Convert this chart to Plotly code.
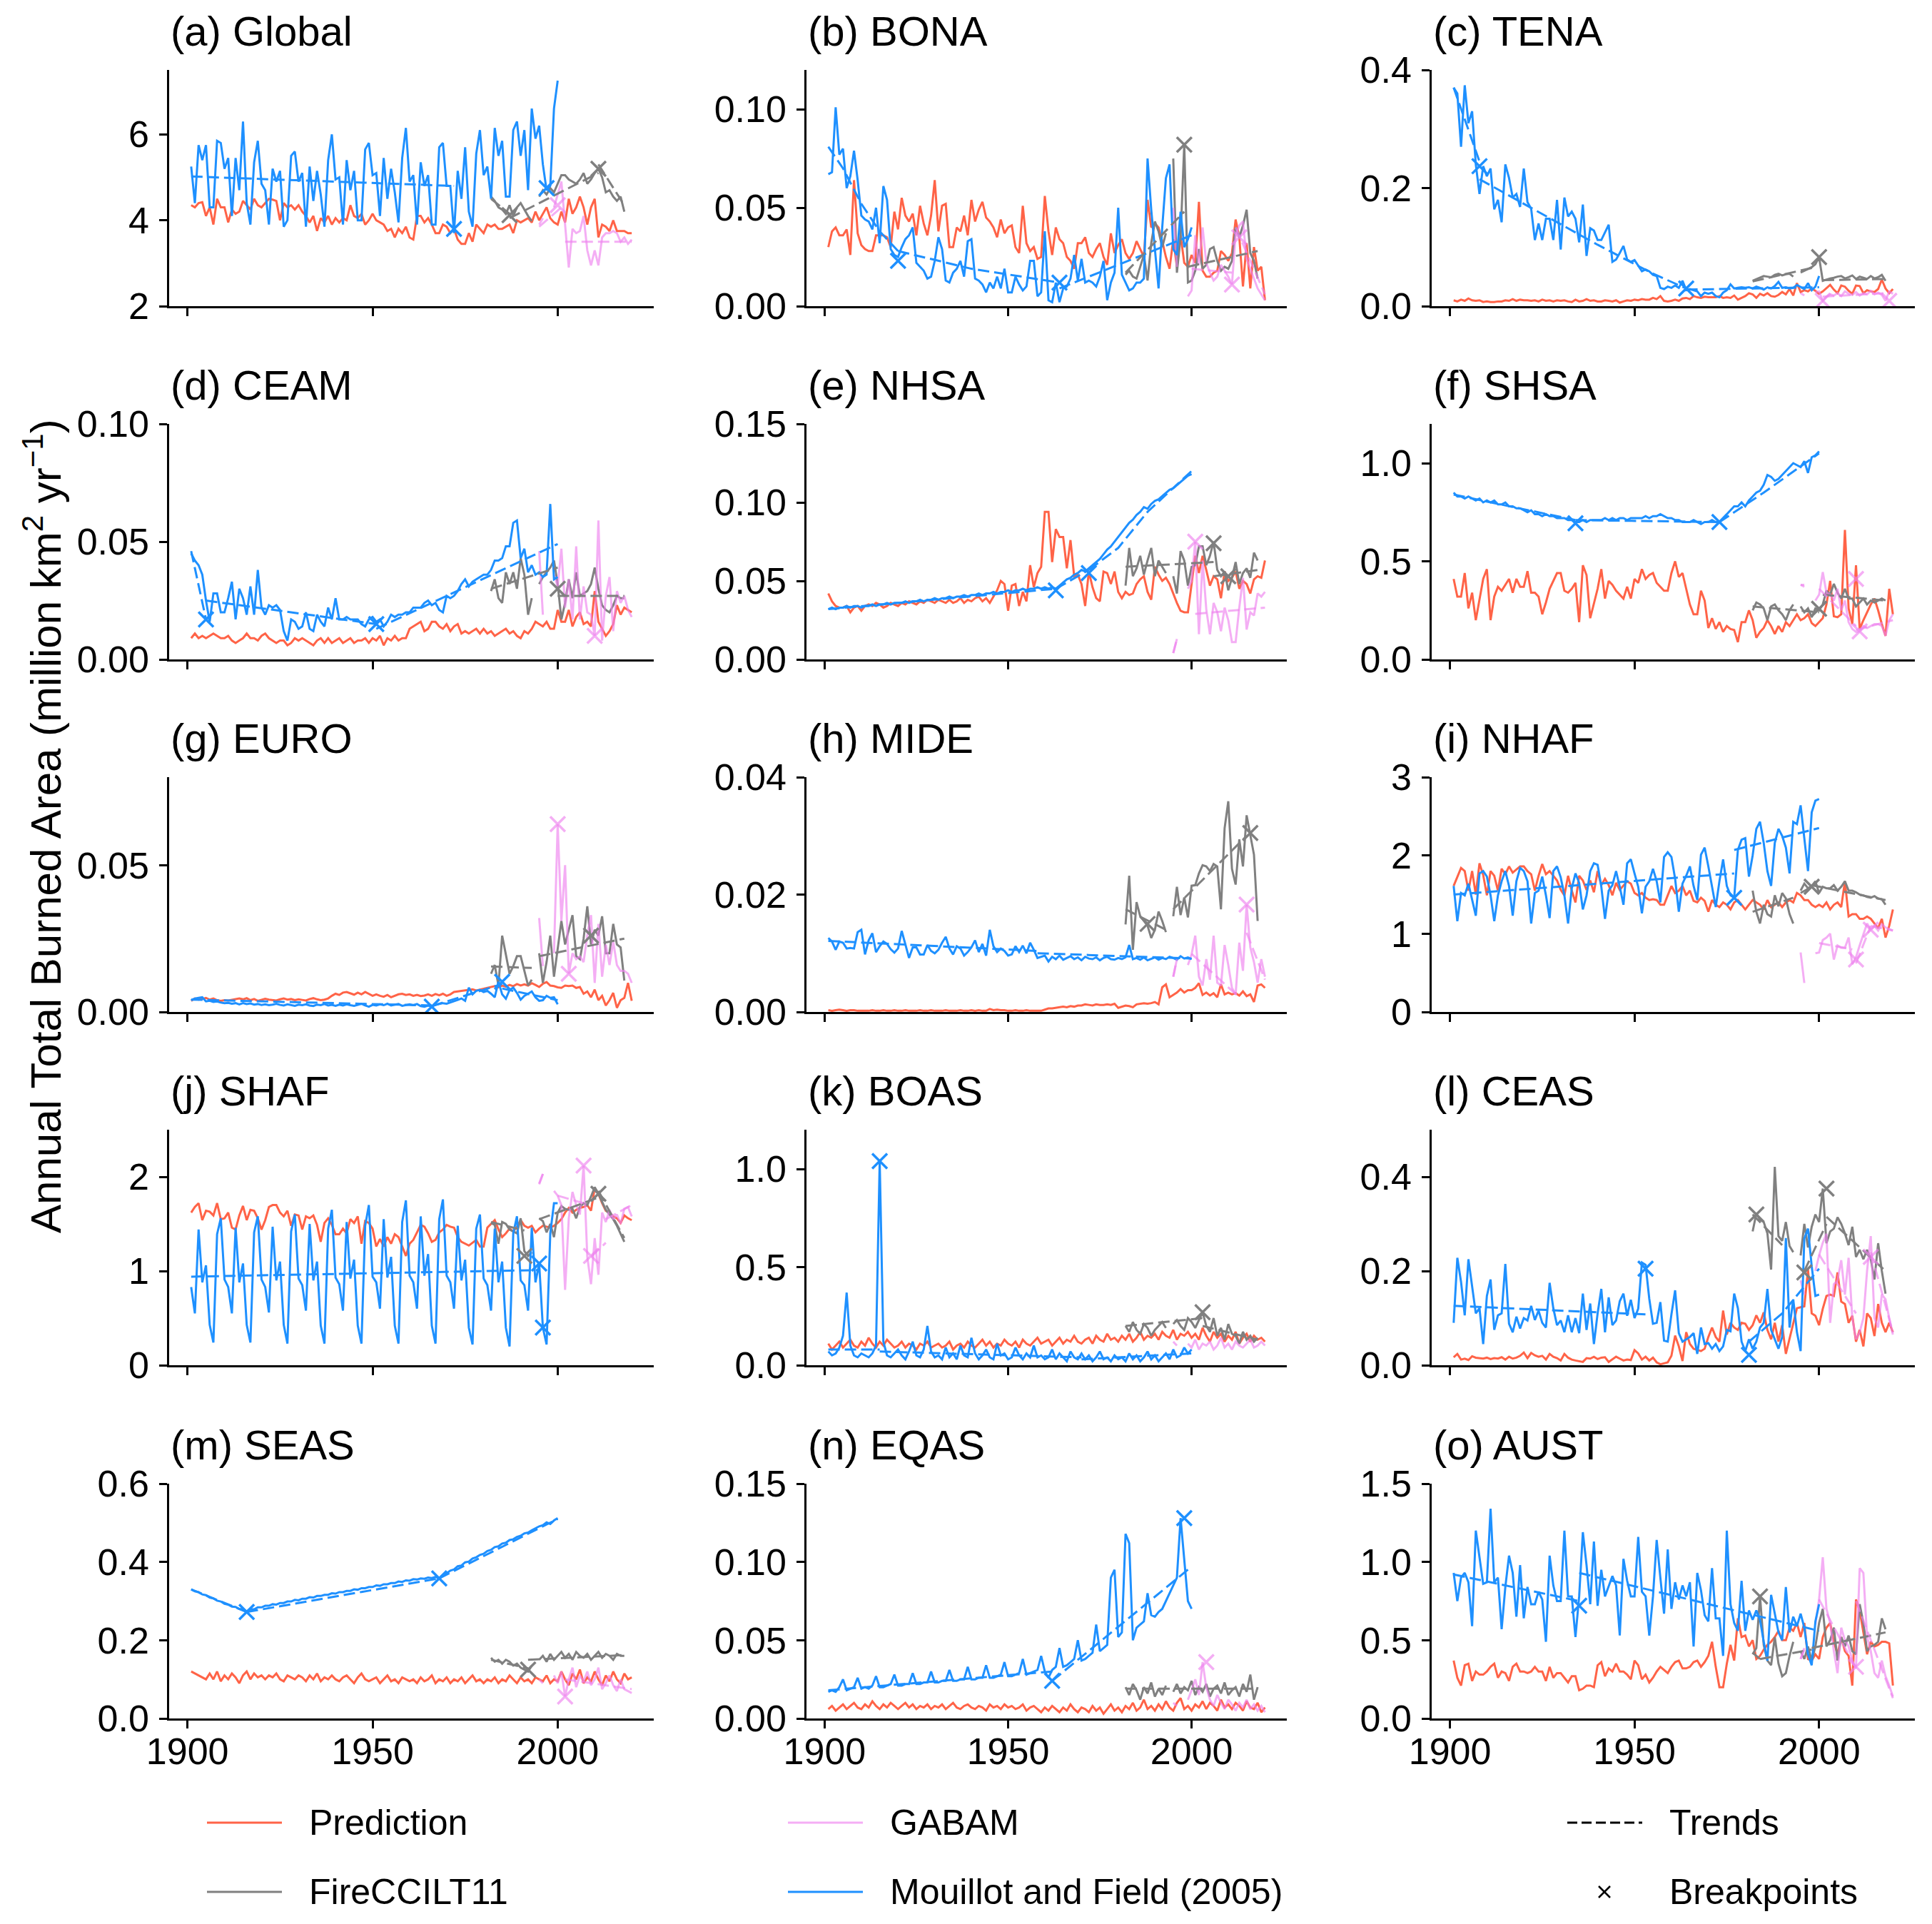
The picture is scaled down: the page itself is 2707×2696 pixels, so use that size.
import plotly.graph_objects as go

# ---------------- common categories ----------------
YEARS_PRED = list(range(1901, 2021))
YEARS_MF = list(range(1901, 2001))
YEARS_CCI = list(range(1982, 2019))
YEARS_GAB = list(range(1995, 2021))
X_TICKS = [1900, 1950, 2000]
X_RANGE = [1895.05, 2025.95]

# ---------------- (a) Global ----------------
PRED_GLOBAL = [
    4.35, 4.30, 4.40, 4.42, 4.10, 4.30, 3.90, 4.50, 4.30, 4.30,
    3.95, 4.25, 4.15, 4.20, 4.45, 4.35, 4.25, 4.50, 4.35, 4.30,
    4.40, 4.50, 4.48, 4.45, 4.00, 4.40, 4.30, 4.35, 4.25, 4.35,
    4.20, 4.10, 3.95, 4.10, 3.75, 4.05, 3.95, 4.10, 3.90, 4.05,
    3.95, 4.05, 4.00, 4.35, 4.10, 4.05, 4.15, 3.90, 4.00, 4.15,
    4.00, 3.95, 3.90, 3.75, 3.80, 3.60, 3.80, 3.70, 3.85, 3.60,
    3.55, 4.10, 4.10, 3.95, 4.05, 3.90, 3.70, 3.70, 3.90, 3.85,
    3.70, 3.80, 3.55, 3.45, 3.45, 3.70, 3.50, 3.90, 3.80, 3.70,
    3.90, 3.85, 3.90, 3.80, 3.80, 3.85, 3.90, 3.70, 4.00, 3.95,
    4.00, 4.05, 3.95, 4.20, 4.00, 4.15, 4.30, 4.05, 3.95, 3.90,
    4.20, 3.95, 4.50, 4.15, 4.30, 4.55, 4.30, 3.90, 4.30, 4.50,
    3.60, 3.90, 3.85, 3.75, 4.00, 3.75, 3.75, 3.75, 3.70, 3.70]
MF_GLOBAL = [
    5.25, 4.40, 5.75, 5.40, 5.75, 4.30, 4.30, 5.85, 5.80, 5.20,
    5.45, 4.10, 5.45, 4.70, 6.30, 4.40, 3.90, 5.35, 5.85, 4.85,
    4.70, 3.90, 5.20, 4.90, 5.15, 3.85, 4.00, 5.50, 5.60, 4.90,
    5.10, 3.85, 5.25, 4.45, 5.15, 4.60, 3.85, 5.40, 6.00, 4.95,
    5.00, 3.90, 5.40, 4.70, 5.15, 4.00, 4.00, 5.65, 5.80, 5.05,
    5.10, 4.10, 5.45, 4.50, 5.20, 4.65, 3.95, 5.45, 6.15, 4.90,
    5.05, 3.90, 5.35, 4.80, 5.05, 3.90, 3.90, 5.70, 5.80, 4.80,
    4.80, 3.70, 5.15, 4.50, 5.70, 4.20, 3.85, 5.55, 6.10, 5.05,
    5.25, 4.50, 6.15, 5.50, 5.85, 4.55, 4.55, 6.10, 6.30, 5.50,
    6.10, 4.70, 6.60, 5.90, 6.20, 5.30, 4.70, 4.80, 6.60, 7.25]
CCI_GLOBAL = [
    4.55, 4.45, 4.30, 4.25, 4.15, 4.35, 4.10, 4.30, 4.40, 4.25,
    4.10, 3.98, None, 4.55, 4.70, 4.60, 4.75, 4.65, 4.85, 5.05,
    5.05, 4.95, 4.90, 4.85, 4.95, 5.10, 4.85, 4.95, 5.10, 5.20,
    5.00, 4.65, 4.70, 4.55, 4.45, 4.55, 4.20]
GAB_GLOBAL = [
    3.90, 4.05, None, None, 4.30, 4.60, 4.90, 3.90, 2.90, 3.80,
    3.70, 3.75, 4.10, 3.30, 2.95, 3.30, 2.95, 3.60, 3.70, 3.70,
    3.75, 3.70, 3.50, 3.60, 3.45, 3.55]
TR_GLOBAL = [("mf", [1901, 1972], [5.02, 4.80]),
             ("cci", [1982, 1987], [4.50, 4.15]), ("cci", [1987, 2011], [4.05, 5.10]),
             ("cci", [2011, 2018], [5.30, 4.35]),
             ("gab", [1995, 2001], [3.85, 4.30]), ("gab", [2002, 2020], [3.50, 3.50])]
BK_GLOBAL = [("mf", 1972, 3.80), ("mf", 1997, 4.75), ("cci", 1987, 4.12),
             ("cci", 2011, 5.20), ("gab", 2000, 4.35)]

# ---------------- (b) BONA ----------------
PRED_BONA = [
    0.030, 0.038, 0.040, 0.036, 0.036, 0.039, 0.026, 0.064, 0.037, 0.031,
    0.029, 0.028, 0.028, 0.036, 0.036, 0.036, 0.035, 0.030, 0.048, 0.039,
    0.055, 0.046, 0.043, 0.047, 0.036, 0.051, 0.042, 0.036, 0.046, 0.064,
    0.038, 0.051, 0.052, 0.030, 0.030, 0.040, 0.038, 0.046, 0.036, 0.054,
    0.043, 0.049, 0.053, 0.045, 0.043, 0.040, 0.035, 0.044, 0.037, 0.040,
    0.041, 0.030, 0.027, 0.051, 0.032, 0.028, 0.030, 0.024, 0.025, 0.056,
    0.038, 0.026, 0.040, 0.034, 0.032, 0.025, 0.023, 0.019, 0.032, 0.032,
    0.035, 0.027, 0.025, 0.029, 0.032, 0.025, 0.021, 0.037, 0.027, 0.031,
    0.034, 0.027, 0.024, 0.027, 0.033, 0.029, 0.025, 0.054, 0.040, 0.042,
    0.040, 0.033, 0.025, 0.019, 0.034, 0.020, 0.036, 0.022, 0.020, 0.026,
    0.022, 0.053, 0.018, 0.015, 0.015, 0.017, 0.018, 0.028, 0.026, 0.023,
    0.027, 0.044, 0.035, 0.010, 0.032, 0.009, 0.030, 0.018, 0.020, 0.003]
MF_BONA = [
    0.067, 0.068, 0.101, 0.077, 0.080, 0.060, 0.066, 0.079, 0.064, 0.046,
    0.044, 0.043, 0.039, 0.050, 0.032, 0.061, 0.054, 0.029, 0.026, 0.025,
    0.030, 0.034, 0.036, 0.040, 0.022, 0.020, 0.018, 0.014, 0.015, 0.023,
    0.035, 0.029, 0.013, 0.012, 0.017, 0.019, 0.023, 0.015, 0.033, 0.034,
    0.014, 0.013, 0.011, 0.007, 0.012, 0.009, 0.015, 0.009, 0.019, 0.007,
    0.007, 0.015, 0.011, 0.008, 0.010, 0.023, 0.023, 0.005, 0.007, 0.038,
    0.003, 0.002, 0.012, 0.002, 0.009, 0.010, 0.014, 0.026, 0.013, 0.024,
    0.012, 0.013, 0.012, 0.010, 0.015, 0.023, 0.003, 0.012, 0.017, 0.050,
    0.016, 0.012, 0.008, 0.009, 0.012, 0.012, 0.014, 0.075, 0.049, 0.029,
    0.009, 0.040, 0.065, 0.072, 0.029, 0.026, 0.048, 0.030, 0.034, 0.040]
CCI_BONA = [
    0.016, 0.018, 0.015, 0.014, 0.020, 0.026, 0.013, 0.032, 0.043, 0.038,
    0.030, 0.037, None, 0.075, 0.017, 0.035, 0.082, 0.012, 0.013, 0.018,
    0.029, 0.019, 0.021, 0.029, 0.030, 0.023, 0.018, 0.020, 0.019, 0.023,
    0.040, 0.035, 0.041, 0.049, 0.027, 0.023, 0.014]
GAB_BONA = [
    0.050, 0.020, None, None, 0.005, 0.008, 0.036, 0.021, 0.040, 0.022,
    0.017, 0.013, 0.015, 0.021, 0.018, 0.015, 0.011, 0.036, 0.041, 0.043,
    0.024, 0.019, 0.014, 0.009, 0.006, 0.003]
TR_BONA = [("mf", [1901, 1905, 1910, 1915, 1920], [0.081, 0.070, 0.052, 0.038, 0.028]),
           ("mf", [1920, 1940, 1964], [0.028, 0.019, 0.012]),
           ("mf", [1964, 2000], [0.009, 0.036]),
           ("cci", [1982, 1998], [0.017, 0.048]), ("cci", [1999, 2018], [0.020, 0.028]),
           ("gab", [2000, 2011], [0.019, 0.017]), ("gab", [2012, 2020], [0.040, 0.006])]
BK_BONA = [("mf", 1920, 0.023), ("mf", 1964, 0.012), ("cci", 1998, 0.082),
           ("gab", 2011, 0.011), ("gab", 2013, 0.035)]

# ---------------- (c) TENA ----------------
PRED_TENA = [
    0.010, 0.008, 0.011, 0.009, 0.013, 0.010, 0.009, 0.010, 0.007, 0.008,
    0.007, 0.007, 0.008, 0.008, 0.010, 0.009, 0.012, 0.009, 0.011, 0.010,
    0.010, 0.009, 0.010, 0.008, 0.011, 0.009, 0.010, 0.008, 0.010, 0.009,
    0.010, 0.008, 0.007, 0.011, 0.008, 0.009, 0.012, 0.009, 0.010, 0.008,
    0.008, 0.010, 0.009, 0.008, 0.010, 0.006, 0.008, 0.010, 0.009, 0.011,
    0.010, 0.012, 0.011, 0.011, 0.014, 0.012, 0.017, 0.009, 0.008, 0.009,
    0.011, 0.009, 0.013, 0.014, 0.012, 0.017, 0.015, 0.014, 0.016, 0.015,
    0.015, 0.015, 0.017, 0.014, 0.015, 0.014, 0.018, 0.011, 0.014, 0.017,
    0.022, 0.020, 0.014, 0.021, 0.018, 0.022, 0.017, 0.016, 0.019, 0.024,
    0.020, 0.029, 0.018, 0.039, 0.024, 0.027, 0.025, 0.030, 0.026, 0.021,
    0.025, 0.030, 0.036, 0.028, 0.022, 0.035, 0.033, 0.026, 0.021, 0.035,
    0.034, 0.022, 0.027, 0.025, 0.024, 0.029, 0.045, 0.030, 0.022, 0.029]
MF_TENA = [
    0.370, 0.360, 0.270, 0.374, 0.310, 0.330, 0.240, 0.190, 0.237, 0.220,
    0.233, 0.164, 0.180, 0.142, 0.240, 0.217, 0.184, 0.190, 0.168, 0.233,
    0.176, 0.165, 0.112, 0.140, 0.112, 0.148, 0.148, 0.112, 0.180, 0.096,
    0.184, 0.152, 0.160, 0.148, 0.108, 0.172, 0.085, 0.132, 0.128, 0.112,
    0.112, 0.125, 0.138, 0.075, 0.079, 0.090, 0.102, 0.079, 0.075, 0.078,
    0.069, 0.059, 0.062, 0.059, 0.053, 0.051, 0.031, 0.029, 0.033, 0.031,
    0.035, 0.031, 0.043, 0.027, 0.029, 0.027, 0.025, 0.017, 0.023, 0.021,
    0.023, 0.017, 0.015, 0.023, 0.027, 0.037, 0.030, 0.031, 0.032, 0.031,
    0.032, 0.030, 0.033, 0.031, 0.028, 0.032, 0.030, 0.034, 0.041, 0.031,
    0.032, 0.030, 0.031, 0.036, 0.033, 0.029, 0.039, 0.027, 0.033, 0.051]
CCI_TENA = [
    0.043, 0.046, 0.048, 0.051, 0.050, 0.049, 0.053, 0.055, 0.052, 0.054,
    0.055, 0.050, None, 0.057, 0.060, 0.063, 0.066, 0.071, 0.083, 0.043,
    0.045, 0.047, 0.048, 0.050, 0.051, 0.047, 0.049, 0.052, 0.046, 0.050,
    0.048, 0.046, 0.051, 0.047, 0.049, 0.053, 0.043]
GAB_TENA = [
    0.022, 0.018, None, None, 0.024, 0.025, 0.009, 0.016, 0.020, 0.018,
    0.022, 0.017, 0.025, 0.021, 0.019, 0.024, 0.018, 0.022, 0.020, 0.026,
    0.020, 0.023, 0.019, 0.009, 0.025, 0.021]
TR_TENA = [("mf", [1901, 1908], [0.370, 0.245]),
           ("mf", [1908, 1921, 1940, 1955, 1964], [0.215, 0.170, 0.104, 0.055, 0.030]),
           ("mf", [1964, 2000], [0.028, 0.032]),
           ("cci", [1982, 1999], [0.042, 0.066]), ("cci", [2001, 2018], [0.044, 0.046]),
           ("gab", [2001, 2018], [0.016, 0.022])]
BK_TENA = [("mf", 1908, 0.237), ("mf", 1964, 0.030), ("cci", 2000, 0.083),
           ("gab", 2001, 0.009), ("gab", 2019, 0.009)]

# ---------------- (d) CEAM ----------------
PRED_CEAM = [
    0.009, 0.011, 0.009, 0.010, 0.009, 0.010, 0.011, 0.010, 0.009, 0.009,
    0.010, 0.008, 0.007, 0.008, 0.009, 0.011, 0.009, 0.009, 0.008, 0.010,
    0.011, 0.009, 0.008, 0.007, 0.008, 0.008, 0.006, 0.007, 0.009, 0.008,
    0.009, 0.008, 0.007, 0.006, 0.008, 0.009, 0.007, 0.009, 0.007, 0.008,
    0.009, 0.007, 0.008, 0.009, 0.007, 0.008, 0.008, 0.009, 0.007, 0.009,
    0.008, 0.010, 0.006, 0.009, 0.008, 0.010, 0.008, 0.009, 0.009, 0.013,
    0.014, 0.015, 0.016, 0.012, 0.013, 0.016, 0.016, 0.014, 0.013, 0.015,
    0.012, 0.014, 0.015, 0.011, 0.012, 0.011, 0.012, 0.013, 0.011, 0.013,
    0.011, 0.012, 0.010, 0.011, 0.012, 0.013, 0.011, 0.012, 0.010, 0.009,
    0.012, 0.011, 0.013, 0.016, 0.015, 0.014, 0.016, 0.013, 0.013, 0.021,
    0.016, 0.016, 0.021, 0.014, 0.018, 0.020, 0.015, 0.016, 0.014, 0.029,
    0.016, 0.013, 0.010, 0.012, 0.015, 0.023, 0.019, 0.022, 0.021, 0.020]
MF_CEAM = [
    0.045, 0.042, 0.040, 0.036, 0.025, 0.016, 0.028, 0.028, 0.020, 0.020,
    0.026, 0.033, 0.017, 0.030, 0.026, 0.019, 0.031, 0.019, 0.038, 0.022,
    0.019, 0.023, 0.022, 0.023, 0.021, 0.012, 0.008, 0.017, 0.016, 0.013,
    0.014, 0.020, 0.013, 0.012, 0.019, 0.016, 0.014, 0.022, 0.017, 0.026,
    0.017, 0.017, 0.018, 0.017, 0.017, 0.017, 0.015, 0.014, 0.017, 0.018,
    0.016, 0.017, 0.014, 0.016, 0.019, 0.018, 0.019, 0.019, 0.020, 0.020,
    0.022, 0.022, 0.022, 0.024, 0.025, 0.023, 0.024, 0.021, 0.020, 0.027,
    0.026, 0.027, 0.029, 0.032, 0.034, 0.031, 0.033, 0.034, 0.035, 0.036,
    0.036, 0.038, 0.042, 0.042, 0.043, 0.048, 0.048, 0.058, 0.059, 0.043,
    0.047, 0.037, 0.040, 0.036, 0.037, 0.035, 0.036, 0.066, 0.034, 0.035]
CCI_CEAM = [
    0.029, 0.034, 0.026, 0.024, 0.037, 0.032, 0.037, 0.030, 0.043, 0.036,
    0.019, 0.026, None, 0.032, 0.035, 0.037, 0.039, 0.042, 0.032, 0.017,
    0.024, 0.034, 0.026, 0.037, 0.027, 0.028, 0.029, 0.032, 0.039, 0.030,
    0.023, 0.021, 0.020, 0.023, 0.027, 0.026, 0.026]
GAB_CEAM = [
    0.046, 0.019, None, None, 0.036, 0.031, 0.047, 0.022, 0.034, 0.017,
    0.048, 0.017, 0.031, 0.020, 0.019, 0.010, 0.059, 0.008, 0.027, 0.035,
    0.012, 0.029, 0.024, 0.027, 0.021, 0.018]
TR_CEAM = [("mf", [1901, 1905], [0.046, 0.017]), ("mf", [1905, 1951], [0.025, 0.015]),
           ("mf", [1951, 2000], [0.013, 0.049]),
           ("cci", [1982, 2000], [0.030, 0.039]), ("cci", [2000, 2018], [0.027, 0.027])]
BK_CEAM = [("mf", 1905, 0.017), ("mf", 1951, 0.015), ("cci", 2000, 0.030),
           ("gab", 2010, 0.010)]

# ---------------- (e) NHSA ----------------
PRED_NHSA = [
    0.042, 0.037, 0.034, 0.033, 0.033, 0.034, 0.030, 0.033, 0.034, 0.031,
    0.034, 0.035, 0.034, 0.036, 0.035, 0.033, 0.034, 0.036, 0.035, 0.034,
    0.036, 0.035, 0.037, 0.036, 0.035, 0.037, 0.036, 0.038, 0.037, 0.036,
    0.038, 0.037, 0.036, 0.038, 0.036, 0.037, 0.039, 0.036, 0.038, 0.037,
    0.039, 0.040, 0.037, 0.039, 0.036, 0.040, 0.044, 0.050, 0.048, 0.031,
    0.047, 0.048, 0.034, 0.043, 0.037, 0.060, 0.046, 0.055, 0.059, 0.094,
    0.094, 0.062, 0.083, 0.078, 0.078, 0.058, 0.076, 0.053, 0.054, 0.048,
    0.034, 0.056, 0.046, 0.039, 0.037, 0.056, 0.055, 0.048, 0.056, 0.043,
    0.039, 0.043, 0.041, 0.042, 0.048, 0.051, 0.053, 0.043, 0.038, 0.059,
    0.054, 0.050, 0.052, 0.048, 0.042, 0.036, 0.031, 0.030, 0.030, 0.047,
    0.066, 0.055, 0.066, 0.057, 0.047, 0.053, 0.051, 0.039, 0.056, 0.050,
    0.052, 0.056, 0.045, 0.050, 0.048, 0.042, 0.051, 0.053, 0.052, 0.063]
MF_NHSA = [
    0.032, 0.033, 0.032, 0.033, 0.033, 0.034, 0.033, 0.034, 0.034, 0.033,
    0.034, 0.034, 0.035, 0.034, 0.035, 0.035, 0.036, 0.035, 0.036, 0.036,
    0.036, 0.037, 0.036, 0.037, 0.037, 0.038, 0.037, 0.038, 0.038, 0.039,
    0.038, 0.039, 0.039, 0.040, 0.039, 0.040, 0.040, 0.041, 0.040, 0.041,
    0.041, 0.042, 0.041, 0.042, 0.042, 0.043, 0.042, 0.043, 0.043, 0.044,
    0.043, 0.044, 0.044, 0.045, 0.044, 0.045, 0.045, 0.046, 0.045, 0.046,
    0.045, 0.046, 0.045, 0.047, 0.049, 0.051, 0.052, 0.054, 0.055, 0.057,
    0.056, 0.058, 0.060, 0.062, 0.064, 0.067, 0.070, 0.072, 0.075, 0.078,
    0.081, 0.084, 0.087, 0.089, 0.092, 0.094, 0.097, 0.096, 0.099, 0.101,
    0.102, 0.104, 0.106, 0.108, 0.109, 0.111, 0.113, 0.115, 0.117, 0.118]
CCI_NHSA = [
    0.047, 0.071, 0.053, 0.058, 0.066, 0.054, 0.063, 0.071, 0.053, 0.063,
    0.059, 0.055, None, 0.053, 0.042, 0.069, 0.063, 0.047, 0.059, 0.060,
    0.072, 0.072, 0.060, 0.066, 0.075, 0.057, 0.053, 0.056, 0.044, 0.052,
    0.062, 0.048, 0.055, 0.058, 0.052, 0.068, 0.063]
GAB_NHSA = [
    0.004, 0.013, None, None, 0.045, 0.050, 0.075, 0.016, 0.063, 0.032,
    0.016, 0.036, 0.030, 0.018, 0.033, 0.025, 0.011, 0.011, 0.033, 0.052,
    0.019, 0.030, 0.028, 0.042, 0.040, 0.043]
TR_NHSA = [("mf", [1901, 1963], [0.032, 0.045]), ("mf", [1963, 1972], [0.045, 0.057]),
           ("mf", [1972, 1980, 1988, 2000], [0.057, 0.071, 0.094, 0.120]),
           ("cci", [1982, 2006], [0.059, 0.062]), ("cci", [2006, 2018], [0.053, 0.057]),
           ("gab", [1995, 1996], [0.004, 0.013]), ("gab", [2001, 2020], [0.029, 0.033])]
BK_NHSA = [("mf", 1963, 0.044), ("mf", 1972, 0.055), ("gab", 2001, 0.075),
           ("cci", 2006, 0.074), ("cci", 2010, 0.053)]

# ---------------- (f) SHSA ----------------
PRED_SHSA = [
    0.41, 0.32, 0.32, 0.44, 0.26, 0.34, 0.20, 0.30, 0.41, 0.46,
    0.20, 0.32, 0.37, 0.35, 0.38, 0.41, 0.34, 0.41, 0.37, 0.37,
    0.45, 0.34, 0.34, 0.32, 0.23, 0.29, 0.36, 0.40, 0.44, 0.44,
    0.35, 0.34, 0.36, 0.39, 0.19, 0.48, 0.43, 0.21, 0.28, 0.36,
    0.46, 0.31, 0.40, 0.38, 0.35, 0.33, 0.31, 0.37, 0.31, 0.41,
    0.39, 0.46, 0.41, 0.43, 0.44, 0.39, 0.37, 0.35, 0.35, 0.44,
    0.50, 0.42, 0.44, 0.36, 0.28, 0.23, 0.23, 0.35, 0.30, 0.16,
    0.21, 0.155, 0.19, 0.14, 0.17, 0.155, 0.15, 0.088, 0.19, 0.19,
    0.25, 0.20, 0.11, 0.14, 0.16, 0.20, 0.17, 0.13, 0.17, 0.14,
    0.19, 0.17, 0.20, 0.23, 0.20, 0.21, 0.23, 0.185, 0.17, 0.19,
    0.21, 0.28, 0.40, 0.22, 0.215, 0.23, 0.66, 0.26, 0.18, 0.48,
    0.155, 0.20, 0.24, 0.28, 0.31, 0.25, 0.18, 0.12, 0.36, 0.23]
MF_SHSA = [
    0.85, 0.83, 0.83, 0.82, 0.83, 0.82, 0.81, 0.82, 0.80, 0.81,
    0.80, 0.81, 0.79, 0.79, 0.80, 0.78, 0.78, 0.77, 0.77, 0.76,
    0.75, 0.76, 0.74, 0.74, 0.73, 0.74, 0.73, 0.73, 0.72, 0.72,
    0.72, 0.71, 0.71, 0.70, 0.70, 0.71, 0.70, 0.71, 0.71, 0.71,
    0.71, 0.72, 0.71, 0.72, 0.71, 0.72, 0.72, 0.71, 0.72, 0.72,
    0.72, 0.72, 0.73, 0.72, 0.73, 0.73, 0.74, 0.73, 0.72, 0.72,
    0.71, 0.71, 0.70, 0.70, 0.70, 0.71, 0.70, 0.69, 0.70, 0.70,
    0.71, 0.70, 0.70, 0.72, 0.74, 0.76, 0.78, 0.78, 0.80, 0.78,
    0.81, 0.83, 0.85, 0.86, 0.89, 0.94, 0.93, 0.91, 0.92, 0.94,
    0.96, 0.98, 1.00, 0.99, 0.98, 1.01, 0.95, 1.03, 1.04, 1.06]
CCI_SHSA = [
    0.25, 0.29, 0.28, 0.26, 0.20, 0.27, 0.28, 0.25, 0.23, 0.20,
    0.25, 0.28, None, 0.27, 0.24, 0.26, 0.215, 0.26, 0.25, 0.28,
    0.35, 0.33, 0.385, 0.34, 0.31, 0.36, 0.31, 0.31, 0.27, 0.29,
    0.31, 0.28, 0.30, 0.29, 0.30, 0.31, 0.30]
GAB_SHSA = [
    0.38, 0.37, None, None, 0.30, 0.33, 0.445, 0.34, 0.33, 0.30,
    0.36, 0.25, 0.30, 0.19, 0.155, 0.14, 0.143, 0.17, 0.16, 0.17,
    0.18, 0.18, 0.17, 0.12, 0.20, 0.23]
TR_SHSA = [("mf", [1901, 1934], [0.84, 0.71]), ("mf", [1934, 1973], [0.71, 0.70]),
           ("mf", [1973, 1985, 2000], [0.70, 0.85, 1.05]),
           ("cci", [1982, 2000], [0.27, 0.24]), ("cci", [2001, 2018], [0.33, 0.30]),
           ("gab", [1995, 1996], [0.38, 0.38]), ("gab", [2000, 2010], [0.36, 0.17]),
           ("gab", [2010, 2020], [0.15, 0.20])]
BK_SHSA = [("mf", 1934, 0.694), ("mf", 1973, 0.70), ("cci", 2000, 0.258),
           ("gab", 2010, 0.41), ("gab", 2011, 0.143)]

# ---------------- (g) EURO ----------------
PRED_EURO = [
    0.0038, 0.0046, 0.0042, 0.0044, 0.0048, 0.0042, 0.0046, 0.0040, 0.0038, 0.0040,
    0.0039, 0.0041, 0.0044, 0.0046, 0.0043, 0.0047, 0.0040, 0.0044, 0.0038, 0.0041,
    0.0045, 0.0042, 0.0040, 0.0039, 0.0043, 0.0046, 0.0042, 0.0044, 0.0040, 0.0043,
    0.0041, 0.0039, 0.0044, 0.0047, 0.0043, 0.0040, 0.0042, 0.0046, 0.0055, 0.0062,
    0.0058, 0.0066, 0.0068, 0.0063, 0.0059, 0.0066, 0.0060, 0.0068, 0.0062, 0.0055,
    0.0060, 0.0055, 0.0052, 0.0058, 0.0050, 0.0055, 0.0060, 0.0062, 0.0058, 0.0060,
    0.0055, 0.0058, 0.0054, 0.0056, 0.0060, 0.0055, 0.0061, 0.0057, 0.0062, 0.0055,
    0.0060, 0.0068, 0.0070, 0.0072, 0.0074, 0.0076, 0.0077, 0.0073, 0.0076, 0.0080,
    0.0082, 0.0085, 0.0088, 0.0084, 0.0090, 0.0086, 0.0092, 0.0088, 0.0095, 0.0090,
    0.0094, 0.0090, 0.0098, 0.0092, 0.0085, 0.0096, 0.0102, 0.0090, 0.0088, 0.0084,
    0.0082, 0.0090, 0.0088, 0.0090, 0.0082, 0.0085, 0.0062, 0.0070, 0.0050, 0.0076,
    0.0040, 0.0055, 0.0022, 0.0040, 0.0065, 0.0014, 0.0040, 0.0048, 0.0099, 0.0038]
MF_EURO = [
    0.0040, 0.0046, 0.0048, 0.0050, 0.0036, 0.0038, 0.0034, 0.0036, 0.0032, 0.0030,
    0.0031, 0.0028, 0.0030, 0.0026, 0.0030, 0.0027, 0.0029, 0.0025, 0.0027, 0.0024,
    0.0026, 0.0023, 0.0025, 0.0028, 0.0024, 0.0022, 0.0026, 0.0024, 0.0021, 0.0025,
    0.0023, 0.0026, 0.0022, 0.0020, 0.0025, 0.0023, 0.0027, 0.0022, 0.0024, 0.0021,
    0.0025, 0.0022, 0.0026, 0.0023, 0.0021, 0.0024, 0.0028, 0.0022, 0.0018, 0.0024,
    0.0022, 0.0026, 0.0023, 0.0028, 0.0022, 0.0025, 0.0027, 0.0021, 0.0024, 0.0026,
    0.0023, 0.0027, 0.0020, 0.0018, 0.0022, 0.0019, 0.0024, 0.0027, 0.0030, 0.0028,
    0.0032, 0.0036, 0.0041, 0.0046, 0.0038, 0.0083, 0.0060, 0.0072, 0.0075, 0.0068,
    0.0072, 0.0062, 0.0050, 0.0103, 0.0060, 0.0045, 0.0075, 0.0083, 0.0065, 0.0042,
    0.0055, 0.0062, 0.0070, 0.0050, 0.0038, 0.0040, 0.0055, 0.0048, 0.0050, 0.0026]
CCI_EURO = [
    0.013, 0.016, 0.009, 0.026, 0.0196, 0.013, 0.0156, 0.019, 0.019, 0.014,
    0.009, 0.011, None, 0.020, 0.0099, 0.017, 0.026, 0.012, 0.021, 0.031,
    0.023, 0.028, 0.033, 0.019, 0.018, 0.025, 0.036, 0.023, 0.028, 0.026,
    0.0326, 0.020, 0.020, 0.030, 0.023, 0.022, 0.0107]
GAB_EURO = [
    0.032, 0.0156, None, None, 0.020, 0.064, 0.031, 0.050, 0.013, 0.020,
    0.018, 0.019, 0.017, 0.026, 0.033, 0.0099, 0.030, 0.012, 0.023, 0.016,
    0.024, 0.016, 0.014, 0.014, 0.013, 0.0099]
TR_EURO = [("mf", [1901, 1966], [0.0042, 0.0022]), ("mf", [1966, 1985], [0.0020, 0.0095]),
           ("mf", [1985, 2000], [0.0080, 0.0040]),
           ("cci", [1982, 1993], [0.0155, 0.0150]), ("cci", [1995, 2018], [0.019, 0.025])]
BK_EURO = [("mf", 1966, 0.0018), ("mf", 1985, 0.0103), ("gab", 2000, 0.064),
           ("gab", 2003, 0.013), ("cci", 2009, 0.026)]

# ---------------- (h) MIDE ----------------
PRED_MIDE = [
    0.0003, 0.0002, 0.0003, 0.0004, 0.0003, 0.0002, 0.0003, 0.0003, 0.0002, 0.0002,
    0.0002, 0.0002, 0.0003, 0.0002, 0.0002, 0.0003, 0.0002, 0.0002, 0.0003, 0.0002,
    0.0002, 0.0003, 0.0002, 0.0002, 0.0002, 0.0003, 0.0002, 0.0002, 0.0003, 0.0002,
    0.0002, 0.0002, 0.0003, 0.0002, 0.0002, 0.0002, 0.0003, 0.0002, 0.0002, 0.0003,
    0.0002, 0.0003, 0.0002, 0.0002, 0.0005, 0.0003, 0.0004, 0.0003, 0.0003, 0.0002,
    0.0002, 0.0003, 0.0002, 0.0002, 0.0003, 0.0002, 0.0002, 0.0002, 0.0002, 0.0004,
    0.0006, 0.0006, 0.0007, 0.0008, 0.0009, 0.0008, 0.0010, 0.0009, 0.0011, 0.0011,
    0.0013, 0.0012, 0.0011, 0.0013, 0.0012, 0.0012, 0.0013, 0.0012, 0.0014, 0.0007,
    0.0009, 0.0011, 0.0010, 0.0008, 0.0013, 0.0014, 0.0015, 0.0014, 0.0015, 0.0017,
    0.0013, 0.0042, 0.0047, 0.0025, 0.0029, 0.0033, 0.0039, 0.0033, 0.0037, 0.0037,
    0.0041, 0.0049, 0.0029, 0.0033, 0.0028, 0.0032, 0.0025, 0.0047, 0.0030, 0.0033,
    0.0030, 0.0032, 0.0028, 0.0035, 0.0027, 0.0030, 0.0017, 0.0045, 0.0047, 0.0041]
MF_MIDE = [
    0.0126, 0.0120, 0.0106, 0.0120, 0.0118, 0.0108, 0.0109, 0.0108, 0.0136, 0.0140,
    0.0098, 0.0122, 0.0134, 0.0102, 0.0112, 0.0120, 0.0116, 0.0107, 0.0101, 0.0108,
    0.0138, 0.0116, 0.0092, 0.0110, 0.0110, 0.0098, 0.0098, 0.0114, 0.0104, 0.0100,
    0.0106, 0.0118, 0.0128, 0.0108, 0.0098, 0.0112, 0.0108, 0.0096, 0.0102, 0.0110,
    0.0122, 0.0102, 0.0116, 0.0096, 0.0140, 0.0112, 0.0102, 0.0108, 0.0104, 0.0096,
    0.0098, 0.0112, 0.0102, 0.0113, 0.0100, 0.0118, 0.0106, 0.0092, 0.0094, 0.0096,
    0.0086, 0.0094, 0.0090, 0.0096, 0.0089, 0.0092, 0.0095, 0.0090, 0.0093, 0.0088,
    0.0094, 0.0091, 0.0090, 0.0093, 0.0088, 0.0092, 0.0094, 0.0090, 0.0089, 0.0092,
    0.0090, 0.0093, 0.0114, 0.0090, 0.0092, 0.0089, 0.0093, 0.0088, 0.0091, 0.0093,
    0.0089, 0.0092, 0.0090, 0.0094, 0.0092, 0.0089, 0.0095, 0.0091, 0.0093, 0.0090]
CCI_MIDE = [
    0.0149, 0.0232, 0.0106, 0.0187, 0.0163, 0.0155, 0.0147, 0.0126, 0.0140, 0.0171,
    0.0155, 0.0136, None, 0.0163, 0.0213, 0.0165, 0.0195, 0.0161, 0.0215, 0.0216,
    0.0236, 0.0250, 0.0248, 0.0240, 0.0252, 0.0248, 0.0175, 0.0313, 0.0359, 0.0244,
    0.0217, 0.0294, 0.0248, 0.0335, 0.0300, 0.0268, 0.0155]
GAB_MIDE = [
    0.0060, 0.0090, None, None, 0.0080, 0.0098, 0.0130, 0.0060, 0.0045, 0.0090,
    0.0055, 0.0130, 0.0050, 0.0045, 0.0114, 0.0080, 0.0041, 0.0030, 0.0118, 0.0070,
    0.0183, 0.0110, 0.0085, 0.0050, 0.0090, 0.0060]
TR_MIDE = [("mf", [1901, 1958], [0.0121, 0.0104]), ("mf", [1958, 2000], [0.0100, 0.0091]),
           ("cci", [1982, 1993], [0.0175, 0.0140]), ("cci", [1995, 2015], [0.0175, 0.0300]),
           ("gab", [1995, 1996], [0.0060, 0.0090]), ("gab", [2000, 2013], [0.0099, 0.0025]),
           ("gab", [2015, 2020], [0.0135, 0.0055])]
BK_MIDE = [("cci", 1988, 0.0150), ("cci", 2016, 0.0305), ("gab", 2015, 0.0183)]

# ---------------- (i) NHAF ----------------
PRED_NHAF = [
    1.61, 1.73, 1.84, 1.80, 1.55, 1.80, 1.50, 1.90, 1.75, 1.49,
    1.80, 1.74, 1.55, 1.83, 1.76, 1.86, 1.78, 1.82, 1.86, 1.86,
    1.80, 1.76, 1.55, 1.74, 1.89, 1.76, 1.80, 1.74, 1.68, 1.56,
    1.49, 1.74, 1.55, 1.40, 1.74, 1.68, 1.56, 1.68, 1.53, 1.80,
    1.62, 1.70, 1.62, 1.49, 1.65, 1.56, 1.62, 1.67, 1.64, 1.52,
    1.49, 1.52, 1.46, 1.43, 1.44, 1.43, 1.37, 1.37, 1.49, 1.61,
    1.52, 1.55, 1.61, 1.49, 1.55, 1.42, 1.40, 1.46, 1.42, 1.28,
    1.43, 1.37, 1.34, 1.40, 1.37, 1.31, 1.40, 1.43, 1.37, 1.31,
    1.37, 1.43, 1.40, 1.37, 1.31, 1.43, 1.34, 1.37, 1.40, 1.34,
    1.40, 1.43, 1.40, 1.52, 1.49, 1.43, 1.43, 1.37, 1.34, 1.37,
    1.34, 1.40, 1.31, 1.37, 1.40, 1.34, 1.67, 1.22, 1.25, 1.25,
    1.19, 1.19, 1.22, 1.19, 1.13, 1.07, 1.19, 0.95, 1.10, 1.31]
MF_NHAF = [
    1.61, 1.16, 1.52, 1.49, 1.64, 1.43, 1.23, 1.77, 1.80, 1.73,
    1.49, 1.16, 1.49, 1.67, 1.80, 1.61, 1.23, 1.67, 1.84, 1.80,
    1.67, 1.13, 1.52, 1.55, 1.73, 1.49, 1.20, 1.80, 1.86, 1.72,
    1.49, 1.13, 1.58, 1.77, 1.65, 1.31, 1.49, 1.80, 1.90, 1.88,
    1.60, 1.19, 1.55, 1.62, 1.80, 1.60, 1.37, 1.90, 1.95, 1.77,
    1.60, 1.26, 1.60, 1.67, 1.83, 1.67, 1.40, 1.98, 2.04, 1.98,
    1.70, 1.28, 1.64, 1.74, 1.86, 1.61, 1.43, 2.01, 2.10, 1.86,
    1.61, 1.34, 1.67, 1.95, 1.61, 1.49, 1.46, 2.07, 2.20, 2.22,
    1.73, 2.00, 2.34, 2.43, 2.16, 1.80, 1.61, 2.16, 2.34, 2.25,
    2.10, 1.77, 2.43, 2.40, 2.64, 2.22, 1.80, 2.55, 2.70, 2.72]
CCI_NHAF = [
    1.55, 1.28, 1.13, 1.37, 1.25, 1.22, 1.49, 1.35, 1.52, 1.45,
    1.25, 1.13, None, 1.55, 1.64, 1.58, 1.61, 1.67, 1.52, 1.60,
    1.58, 1.58, 1.62, 1.55, 1.60, 1.67, 1.55, 1.55, 1.53, 1.50,
    1.49, 1.47, 1.46, 1.48, 1.45, 1.44, 1.37]
GAB_NHAF = [
    0.76, 0.37, None, None, 0.75, 0.76, 0.92, 0.95, 1.00, 0.67,
    0.85, 0.82, 0.82, 0.95, 0.61, 0.70, 0.85, 1.00, 1.13, 1.05,
    1.10, 1.04, 1.12, 1.08, 1.06, 1.04]
TR_NHAF = [("mf", [1901, 1977], [1.50, 1.77]), ("mf", [1977, 2000], [2.07, 2.35]),
           ("cci", [1982, 1993], [1.28, 1.46]), ("cci", [1995, 1998], [1.52, 1.60]),
           ("cci", [1998, 2018], [1.62, 1.43]),
           ("gab", [2000, 2009], [0.88, 0.80]), ("gab", [2010, 2014], [0.62, 1.10]),
           ("gab", [2014, 2020], [1.10, 1.04])]
BK_NHAF = [("mf", 1977, 1.46), ("cci", 1998, 1.60), ("gab", 2010, 0.67), ("gab", 2014, 1.05)]

# ---------------- (j) SHAF ----------------
PRED_SHAF = [
    1.62, 1.68, 1.72, 1.54, 1.64, 1.63, 1.59, 1.72, 1.55, 1.56,
    1.62, 1.46, 1.44, 1.59, 1.69, 1.54, 1.65, 1.64, 1.56, 1.44,
    1.54, 1.68, 1.70, 1.70, 1.62, 1.58, 1.64, 1.48, 1.60, 1.59,
    1.44, 1.58, 1.56, 1.59, 1.49, 1.31, 1.51, 1.56, 1.49, 1.39,
    1.39, 1.45, 1.40, 1.55, 1.51, 1.58, 1.29, 1.53, 1.51, 1.45,
    1.26, 1.34, 1.26, 1.36, 1.29, 1.39, 1.36, 1.26, 1.16, 1.29,
    1.33, 1.41, 1.49, 1.47, 1.40, 1.31, 1.33, 1.41, 1.44, 1.49,
    1.47, 1.46, 1.36, 1.31, 1.29, 1.27, 1.30, 1.33, 1.26, 1.26,
    1.46, 1.50, 1.54, 1.44, 1.36, 1.40, 1.45, 1.42, 1.47, 1.54,
    1.48, 1.46, 1.48, 1.41, 1.45, 1.48, 1.47, 1.46, 1.48, 1.51,
    1.55, 1.62, 1.67, 1.62, 1.65, 1.67, 1.68, 1.70, 1.64, 1.88,
    1.82, 1.72, 1.64, 1.62, 1.58, 1.56, 1.51, 1.59, 1.56, 1.54]
MF_SHAF = [
    0.83, 0.55, 1.44, 0.88, 1.06, 0.43, 0.24, 1.39, 1.56, 0.91,
    0.83, 0.55, 1.46, 0.88, 1.08, 0.43, 0.24, 1.41, 1.58, 0.91,
    0.83, 0.56, 1.47, 0.90, 1.10, 0.43, 0.23, 1.42, 1.60, 0.92,
    0.85, 0.58, 1.50, 0.90, 1.10, 0.42, 0.23, 1.45, 1.65, 0.93,
    0.86, 0.58, 1.52, 0.92, 1.12, 0.42, 0.23, 1.48, 1.70, 0.94,
    0.88, 0.60, 1.55, 0.93, 1.15, 0.42, 0.23, 1.52, 1.75, 0.95,
    0.88, 0.60, 1.58, 0.95, 1.18, 0.42, 0.23, 1.55, 1.76, 0.95,
    0.88, 0.60, 1.48, 0.90, 1.12, 0.40, 0.22, 1.45, 1.60, 0.92,
    0.85, 0.58, 1.45, 0.88, 1.10, 0.40, 0.20, 1.40, 1.58, 0.90,
    0.85, 0.58, 1.46, 0.88, 1.08, 0.40, 0.22, 1.40, 1.72, 1.72]
CCI_SHAF = [
    1.51, 1.49, 1.29, 1.52, 1.50, 1.44, 1.42, 1.40, 1.56, 1.21,
    1.16, 1.20, None, 1.56, 1.53, 1.41, 1.50, 1.36, 1.62, 1.69,
    1.66, 1.65, 1.66, 1.56, 1.68, 1.72, 1.70, 1.79, 1.89, 1.82,
    1.73, 1.65, 1.60, 1.55, 1.48, 1.40, 1.31]
GAB_SHAF = [
    1.92, 2.03, None, None, 1.85, 1.80, 1.70, 0.80, 1.56, 1.84,
    1.70, 1.60, 2.12, 1.15, 0.86, 1.35, 0.96, 1.62, 1.52, 1.65,
    1.55, 1.60, 1.50, 1.66, 1.68, 1.58]
TR_SHAF = [("mf", [1901, 1995], [0.94, 1.01]),
           ("cci", [1982, 1991], [1.52, 1.43]), ("cci", [1995, 2011], [1.55, 1.78]),
           ("cci", [2011, 2018], [1.85, 1.35]),
           ("gab", [1995, 1996], [1.93, 2.03]), ("gab", [2000, 2007], [1.80, 1.72]),
           ("gab", [2009, 2013], [1.15, 1.30]), ("gab", [2013, 2020], [1.55, 1.70])]
BK_SHAF = [("mf", 1995, 1.08), ("mf", 1996, 0.40), ("cci", 1991, 1.16), ("cci", 2011, 1.82),
           ("gab", 2007, 2.12), ("gab", 2009, 1.16)]

# ---------------- (k) BOAS ----------------
PRED_BOAS = [
    0.11, 0.08, 0.10, 0.12, 0.09, 0.11, 0.13, 0.10, 0.09, 0.12,
    0.10, 0.14, 0.11, 0.09, 0.12, 0.10, 0.13, 0.11, 0.09, 0.10,
    0.12, 0.09, 0.11, 0.10, 0.08, 0.11, 0.10, 0.12, 0.09, 0.10,
    0.11, 0.09, 0.10, 0.12, 0.08, 0.10, 0.11, 0.09, 0.12, 0.10,
    0.09, 0.11, 0.13, 0.10, 0.12, 0.09, 0.11, 0.10, 0.13, 0.11,
    0.10, 0.12, 0.09, 0.13, 0.11, 0.10, 0.12, 0.14, 0.11, 0.12,
    0.13, 0.10, 0.12, 0.14, 0.11, 0.13, 0.12, 0.15, 0.12, 0.11,
    0.13, 0.14, 0.11, 0.15, 0.13, 0.12, 0.16, 0.13, 0.14, 0.12,
    0.15, 0.13, 0.16, 0.12, 0.14, 0.17, 0.13, 0.15, 0.14, 0.16,
    0.13, 0.17, 0.15, 0.14, 0.18, 0.13, 0.16, 0.15, 0.17, 0.14,
    0.16, 0.13, 0.19, 0.15, 0.12, 0.17, 0.14, 0.16, 0.12, 0.15,
    0.13, 0.17, 0.11, 0.14, 0.16, 0.12, 0.15, 0.13, 0.14, 0.12]
MF_BOAS = [
    0.07, 0.05, 0.06, 0.09, 0.15, 0.37, 0.10, 0.05, 0.04, 0.06,
    0.05, 0.04, 0.06, 0.10, 1.04, 0.12, 0.05, 0.04, 0.06, 0.08,
    0.05, 0.03, 0.07, 0.12, 0.05, 0.04, 0.08, 0.20, 0.07, 0.04,
    0.05, 0.03, 0.09, 0.04, 0.06, 0.03, 0.10, 0.05, 0.04, 0.14,
    0.06, 0.03, 0.05, 0.08, 0.04, 0.03, 0.11, 0.05, 0.06, 0.03,
    0.04, 0.09, 0.05, 0.03, 0.06, 0.04, 0.10, 0.04, 0.05, 0.03,
    0.04, 0.08, 0.03, 0.06, 0.04, 0.02, 0.07, 0.04, 0.03, 0.06,
    0.03, 0.05, 0.02, 0.04, 0.07, 0.03, 0.04, 0.02, 0.05, 0.03,
    0.04, 0.02, 0.06, 0.03, 0.05, 0.02, 0.04, 0.07, 0.03, 0.05,
    0.02, 0.04, 0.06, 0.03, 0.08, 0.04, 0.05, 0.09, 0.06, 0.08]
CCI_BOAS = [
    0.20, 0.17, 0.22, 0.18, 0.16, 0.21, 0.19, 0.15, 0.18, 0.20,
    0.22, 0.19, None, 0.21, 0.23, 0.20, 0.18, 0.24, 0.22, 0.19,
    0.23, 0.27, 0.20, 0.17, 0.24, 0.15, 0.19, 0.13, 0.21, 0.16,
    0.15, 0.11, 0.17, 0.13, 0.15, 0.12, 0.14]
GAB_BOAS = [
    0.12, 0.10, None, None, 0.11, 0.09, 0.13, 0.08, 0.11, 0.10,
    0.12, 0.08, 0.10, 0.14, 0.09, 0.11, 0.08, 0.12, 0.10, 0.09,
    0.11, 0.13, 0.09, 0.10, 0.12, 0.10]
TR_BOAS = [("mf", [1901, 1915], [0.08, 0.08]), ("mf", [1915, 1970], [0.07, 0.04]),
           ("mf", [1970, 2000], [0.03, 0.06]),
           ("cci", [1982, 2003], [0.20, 0.24]), ("cci", [2003, 2018], [0.20, 0.13])]
BK_BOAS = [("mf", 1915, 1.04), ("cci", 2003, 0.27)]

# ---------------- (l) CEAS ----------------
PRED_CEAS = [
    0.017, 0.024, 0.012, 0.014, 0.011, 0.019, 0.016, 0.015, 0.014, 0.016,
    0.013, 0.015, 0.014, 0.017, 0.012, 0.018, 0.014, 0.016, 0.020, 0.027,
    0.015, 0.026, 0.021, 0.018, 0.020, 0.012, 0.024, 0.018, 0.015, 0.010,
    0.024, 0.016, 0.012, 0.010, 0.008, 0.007, 0.015, 0.014, 0.018, 0.013,
    0.016, 0.017, 0.007, 0.012, 0.018, 0.014, 0.010, 0.012, 0.011, 0.032,
    0.025, 0.012, 0.018, 0.010, 0.016, 0.006, 0.002, 0.004, 0.006, 0.020,
    0.063, 0.040, 0.009, 0.070, 0.045, 0.035, 0.033, 0.030, 0.035, 0.060,
    0.080, 0.060, 0.050, 0.116, 0.065, 0.090, 0.080, 0.075, 0.090, 0.088,
    0.075, 0.085, 0.106, 0.090, 0.112, 0.075, 0.055, 0.090, 0.050, 0.085,
    0.024, 0.055, 0.090, 0.121, 0.123, 0.125, 0.203, 0.110, 0.105, 0.085,
    0.120, 0.147, 0.150, 0.147, 0.197, 0.135, 0.130, 0.090, 0.105, 0.050,
    0.075, 0.040, 0.110, 0.100, 0.062, 0.130, 0.090, 0.070, 0.090, 0.070]
MF_CEAS = [
    0.090, 0.228, 0.177, 0.106, 0.225, 0.167, 0.110, 0.121, 0.045, 0.147,
    0.182, 0.075, 0.106, 0.110, 0.215, 0.088, 0.070, 0.103, 0.078, 0.100,
    0.095, 0.126, 0.096, 0.116, 0.090, 0.080, 0.175, 0.121, 0.085, 0.095,
    0.070, 0.106, 0.070, 0.100, 0.068, 0.152, 0.075, 0.131, 0.045, 0.110,
    0.162, 0.070, 0.144, 0.085, 0.095, 0.136, 0.152, 0.105, 0.139, 0.100,
    0.120, 0.218, 0.213, 0.141, 0.088, 0.090, 0.134, 0.052, 0.050, 0.108,
    0.159, 0.068, 0.050, 0.055, 0.060, 0.068, 0.024, 0.080, 0.045, 0.047,
    0.035, 0.045, 0.030, 0.040, 0.075, 0.072, 0.152, 0.121, 0.050, 0.030,
    0.055, 0.035, 0.050, 0.080, 0.090, 0.162, 0.075, 0.055, 0.035, 0.060,
    0.270, 0.080, 0.140, 0.070, 0.030, 0.269, 0.290, 0.210, 0.147, 0.150]
CCI_CEAS = [
    0.284, 0.322, 0.309, 0.304, 0.280, 0.203, 0.421, 0.274, 0.264, 0.304,
    0.253, 0.240, None, 0.233, 0.300, 0.250, 0.294, 0.320, 0.304, 0.375,
    0.259, 0.284, 0.290, 0.314, 0.300, 0.280, 0.255, 0.294, 0.230, 0.245,
    0.225, 0.245, 0.225, 0.182, 0.259, 0.200, 0.152]
GAB_CEAS = [
    0.18, 0.15, None, None, 0.20, 0.233, 0.26, 0.279, 0.09, 0.172,
    0.18, 0.223, 0.15, 0.228, 0.10, 0.055, 0.07, 0.10, 0.20, 0.274,
    0.10, 0.08, 0.15, 0.14, 0.10, 0.065]
TR_CEAS = [("mf", [1901, 1953], [0.126, 0.108]), ("mf", [1981, 1990, 2000], [0.050, 0.110, 0.205]),
           ("cci", [1982, 1990], [0.320, 0.255]), ("cci", [1996, 2002], [0.200, 0.300]),
           ("cci", [2002, 2018], [0.315, 0.200]),
           ("gab", [2000, 2010], [0.235, 0.110]), ("gab", [2014, 2020], [0.240, 0.070])]
BK_CEAS = [("mf", 1953, 0.205), ("mf", 1981, 0.022), ("cci", 1983, 0.320),
           ("cci", 1996, 0.197), ("cci", 2002, 0.375), ("gab", 2014, 0.230)]

# ---------------- (m) SEAS ----------------
PRED_SEAS = [
    0.120, 0.115, 0.110, 0.105, 0.100, 0.115, 0.100, 0.120, 0.095, 0.110,
    0.100, 0.115, 0.105, 0.090, 0.110, 0.120, 0.100, 0.115, 0.105, 0.110,
    0.100, 0.110, 0.105, 0.115, 0.100, 0.095, 0.110, 0.105, 0.100, 0.110,
    0.105, 0.095, 0.110, 0.100, 0.115, 0.095, 0.105, 0.100, 0.110, 0.100,
    0.095, 0.105, 0.110, 0.100, 0.090, 0.105, 0.115, 0.100, 0.095, 0.100,
    0.105, 0.090, 0.100, 0.110, 0.095, 0.100, 0.090, 0.105, 0.100, 0.095,
    0.100, 0.090, 0.105, 0.095, 0.100, 0.110, 0.090, 0.100, 0.095, 0.105,
    0.090, 0.100, 0.095, 0.105, 0.090, 0.100, 0.110, 0.095, 0.100, 0.090,
    0.100, 0.095, 0.105, 0.090, 0.100, 0.095, 0.110, 0.100, 0.090, 0.105,
    0.095, 0.100, 0.090, 0.105, 0.100, 0.095, 0.110, 0.090, 0.100, 0.095,
    0.120, 0.100, 0.085, 0.115, 0.100, 0.125, 0.090, 0.105, 0.095, 0.120,
    0.100, 0.085, 0.110, 0.095, 0.120, 0.100, 0.090, 0.115, 0.100, 0.105]
MF_SEAS = [
    0.330, 0.325, 0.323, 0.317, 0.315, 0.309, 0.307, 0.301, 0.299, 0.293,
    0.291, 0.286, 0.285, 0.280, 0.279, 0.274, 0.279, 0.279, 0.284, 0.284,
    0.288, 0.288, 0.292, 0.291, 0.295, 0.295, 0.299, 0.299, 0.303, 0.302,
    0.306, 0.306, 0.310, 0.309, 0.313, 0.313, 0.316, 0.316, 0.320, 0.319,
    0.323, 0.323, 0.326, 0.326, 0.330, 0.329, 0.333, 0.333, 0.336, 0.336,
    0.340, 0.339, 0.343, 0.343, 0.346, 0.346, 0.350, 0.349, 0.353, 0.352,
    0.356, 0.355, 0.358, 0.357, 0.360, 0.359, 0.362, 0.358, 0.367, 0.371,
    0.378, 0.381, 0.389, 0.391, 0.399, 0.401, 0.409, 0.412, 0.418, 0.421,
    0.428, 0.431, 0.438, 0.440, 0.447, 0.449, 0.456, 0.458, 0.464, 0.467,
    0.473, 0.475, 0.481, 0.486, 0.491, 0.494, 0.501, 0.497, 0.506, 0.512]
CCI_SEAS = [
    0.155, 0.145, 0.150, 0.140, 0.150, 0.145, 0.135, 0.140, 0.130, 0.125,
    0.120, 0.135, None, 0.150, 0.160, 0.145, 0.165, 0.150, 0.160, 0.170,
    0.155, 0.165, 0.150, 0.170, 0.160, 0.155, 0.165, 0.150, 0.160, 0.170,
    0.155, 0.165, 0.160, 0.150, 0.165, 0.160, 0.160]
GAB_SEAS = [
    0.100, 0.090, None, None, 0.110, 0.090, 0.120, 0.056, 0.100, 0.130,
    0.080, 0.110, 0.095, 0.120, 0.085, 0.100, 0.130, 0.075, 0.090, 0.110,
    0.085, 0.070, 0.100, 0.075, 0.070, 0.065]
TR_SEAS = [("mf", [1901, 1916], [0.330, 0.272]), ("mf", [1916, 1968], [0.272, 0.358]),
           ("mf", [1968, 2000], [0.358, 0.510]),
           ("cci", [1982, 1992], [0.150, 0.128]), ("cci", [1992, 2018], [0.150, 0.162]),
           ("gab", [2002, 2020], [0.100, 0.075])]
BK_SEAS = [("mf", 1916, 0.272), ("mf", 1968, 0.358), ("cci", 1992, 0.125), ("gab", 2002, 0.056)]

# ---------------- (n) EQAS ----------------
PRED_EQAS = [
    0.006, 0.008, 0.005, 0.007, 0.009, 0.006, 0.008, 0.010, 0.007, 0.006,
    0.009, 0.007, 0.011, 0.008, 0.006, 0.009, 0.007, 0.010, 0.008, 0.006,
    0.008, 0.010, 0.007, 0.009, 0.006, 0.008, 0.007, 0.009, 0.006, 0.008,
    0.007, 0.009, 0.006, 0.008, 0.010, 0.007, 0.006, 0.008, 0.009, 0.007,
    0.006, 0.008, 0.007, 0.005, 0.009, 0.007, 0.008, 0.006, 0.009, 0.007,
    0.008, 0.006, 0.007, 0.009, 0.005, 0.007, 0.008, 0.006, 0.004, 0.007,
    0.005, 0.008, 0.006, 0.004, 0.007, 0.005, 0.009, 0.006, 0.004, 0.007,
    0.006, 0.004, 0.008, 0.005, 0.007, 0.003, 0.006, 0.009, 0.005, 0.007,
    0.004, 0.008, 0.006, 0.010, 0.005, 0.007, 0.012, 0.006, 0.008, 0.005,
    0.009, 0.006, 0.011, 0.007, 0.005, 0.010, 0.013, 0.006, 0.008, 0.005,
    0.009, 0.007, 0.011, 0.006, 0.010, 0.008, 0.005, 0.012, 0.007, 0.009,
    0.006, 0.010, 0.008, 0.005, 0.011, 0.007, 0.006, 0.010, 0.004, 0.007]
MF_EQAS = [
    0.017, 0.018, 0.017, 0.020, 0.025, 0.018, 0.019, 0.020, 0.026, 0.019,
    0.020, 0.019, 0.021, 0.027, 0.020, 0.020, 0.021, 0.022, 0.028, 0.021,
    0.021, 0.022, 0.022, 0.029, 0.022, 0.022, 0.023, 0.023, 0.030, 0.023,
    0.023, 0.024, 0.024, 0.031, 0.024, 0.024, 0.025, 0.025, 0.033, 0.025,
    0.025, 0.026, 0.026, 0.034, 0.026, 0.026, 0.027, 0.028, 0.036, 0.027,
    0.027, 0.028, 0.029, 0.038, 0.028, 0.029, 0.030, 0.031, 0.040, 0.030,
    0.026, 0.031, 0.033, 0.045, 0.033, 0.034, 0.036, 0.038, 0.050, 0.037,
    0.038, 0.040, 0.042, 0.060, 0.043, 0.045, 0.047, 0.090, 0.095, 0.052,
    0.055, 0.118, 0.112, 0.050, 0.058, 0.060, 0.062, 0.080, 0.066, 0.065,
    0.068, 0.070, 0.075, 0.080, 0.085, 0.090, 0.128, 0.100, 0.075, 0.070]
CCI_EQAS = [
    0.020, 0.015, 0.022, 0.018, 0.012, 0.020, 0.016, 0.023, 0.014, 0.019,
    0.015, 0.021, None, 0.017, 0.022, 0.016, 0.020, 0.018, 0.024, 0.015,
    0.020, 0.017, 0.022, 0.014, 0.019, 0.021, 0.016, 0.023, 0.015, 0.018,
    0.020, 0.014, 0.022, 0.017, 0.028, 0.012, 0.020]
GAB_EQAS = [
    0.010, 0.008, None, None, 0.012, 0.018, 0.025, 0.015, 0.036, 0.020,
    0.012, 0.008, 0.015, 0.010, 0.006, 0.012, 0.009, 0.005, 0.010, 0.007,
    0.012, 0.006, 0.009, 0.005, 0.008, 0.004]
TR_EQAS = [("mf", [1901, 1962], [0.018, 0.030]), ("mf", [1962, 2000], [0.024, 0.097]),
           ("cci", [1982, 2018], [0.019, 0.019])]
BK_EQAS = [("mf", 1962, 0.024), ("mf", 1998, 0.128), ("gab", 2004, 0.036)]

# ---------------- (o) AUST ----------------
PRED_AUST = [
    0.37, 0.26, 0.21, 0.34, 0.35, 0.24, 0.30, 0.28, 0.28, 0.30,
    0.33, 0.35, 0.26, 0.30, 0.29, 0.24, 0.33, 0.35, 0.30, 0.30,
    0.29, 0.30, 0.33, 0.30, 0.30, 0.24, 0.33, 0.26, 0.29, 0.29,
    0.26, 0.23, 0.27, 0.27, 0.18, 0.19, 0.21, 0.21, 0.20, 0.34,
    0.36, 0.27, 0.32, 0.30, 0.35, 0.30, 0.30, 0.28, 0.25, 0.37,
    0.34, 0.25, 0.28, 0.23, 0.26, 0.30, 0.33, 0.31, 0.29, 0.33,
    0.36, 0.37, 0.32, 0.32, 0.33, 0.36, 0.37, 0.33, 0.36, 0.40,
    0.49, 0.33, 0.20, 0.20, 0.35, 0.47, 0.37, 0.64, 0.52, 0.53,
    0.46, 0.50, 0.38, 0.40, 0.44, 0.47, 0.49, 0.52, 0.56, 0.50,
    0.50, 0.58, 0.56, 0.61, 0.52, 0.61, 0.38, 0.37, 0.41, 0.38,
    0.52, 0.58, 0.61, 0.49, 0.41, 0.52, 0.43, 0.40, 0.21, 0.76,
    0.69, 0.55, 0.41, 0.49, 0.46, 0.47, 0.49, 0.49, 0.48, 0.21]
MF_AUST = [
    0.93, 0.75, 0.90, 0.93, 0.87, 0.59, 1.20, 1.02, 0.86, 0.87,
    1.34, 0.87, 0.90, 0.57, 0.84, 1.04, 0.93, 0.65, 0.98, 0.64,
    0.84, 0.73, 0.73, 0.81, 0.76, 0.49, 1.04, 0.85, 0.75, 0.75,
    1.20, 0.78, 0.78, 0.52, 0.78, 1.19, 0.98, 0.73, 1.13, 0.72,
    0.95, 0.78, 0.85, 0.91, 0.85, 0.53, 1.02, 0.88, 0.78, 0.78,
    1.16, 0.81, 0.78, 0.53, 0.78, 1.14, 0.90, 0.67, 1.08, 0.70,
    0.87, 0.76, 0.85, 0.78, 0.87, 0.46, 0.93, 0.82, 0.66, 0.62,
    0.96, 0.64, 0.64, 0.40, 1.20, 0.73, 0.61, 0.56, 0.88, 0.56,
    0.69, 0.63, 0.69, 0.63, 0.49, 0.37, 0.79, 0.67, 0.55, 0.50,
    0.84, 0.55, 0.65, 0.59, 0.67, 0.58, 0.41, 0.34, 0.62, 0.73]
CCI_AUST = [
    0.41, 0.45, 0.78, 0.47, 0.37, 0.34, 0.52, 0.35, 0.27, 0.29,
    0.40, 0.49, None, 0.43, 0.38, 0.46, 0.37, 0.46, 0.61, 0.70,
    0.46, 0.50, 0.58, 0.37, 0.52, 0.46, 0.53, 0.43, 0.41, 0.73,
    0.61, 0.43, 0.46, 0.47, 0.49, 0.64, 0.57]
GAB_AUST = [
    0.38, 0.45, None, None, 0.60, 0.76, 1.03, 0.70, 0.61, 0.43,
    0.29, 0.58, 0.50, 0.46, 0.37, 0.32, 0.96, 0.93, 0.52, 0.43,
    0.29, 0.26, 0.37, 0.27, 0.21, 0.14]
TR_AUST = [("mf", [1901, 1935], [0.92, 0.75]), ("mf", [1935, 2000], [0.93, 0.56]),
           ("cci", [1982, 1984], [0.42, 0.38]), ("cci", [1984, 1998], [0.38, 0.44]),
           ("cci", [1998, 2018], [0.45, 0.55]),
           ("gab", [1995, 1996], [0.38, 0.44]), ("gab", [2000, 2010], [0.76, 0.32]),
           ("gab", [2010, 2020], [0.75, 0.13])]
BK_AUST = [("mf", 1935, 0.72), ("cci", 1984, 0.78), ("gab", 2010, 0.33)]

# ---------------- panel registry ----------------
PANELS = [
    ("(a) Global", PRED_GLOBAL, MF_GLOBAL, CCI_GLOBAL, GAB_GLOBAL, TR_GLOBAL, BK_GLOBAL, [2, 7.5], [2, 4, 6], "{:.0f}"),
    ("(b) BONA", PRED_BONA, MF_BONA, CCI_BONA, GAB_BONA, TR_BONA, BK_BONA, [0, 0.12], [0, 0.05, 0.10], "{:.2f}"),
    ("(c) TENA", PRED_TENA, MF_TENA, CCI_TENA, GAB_TENA, TR_TENA, BK_TENA, [0, 0.4], [0, 0.2, 0.4], "{:.1f}"),
    ("(d) CEAM", PRED_CEAM, MF_CEAM, CCI_CEAM, GAB_CEAM, TR_CEAM, BK_CEAM, [0, 0.10], [0, 0.05, 0.10], "{:.2f}"),
    ("(e) NHSA", PRED_NHSA, MF_NHSA, CCI_NHSA, GAB_NHSA, TR_NHSA, BK_NHSA, [0, 0.15], [0, 0.05, 0.10, 0.15], "{:.2f}"),
    ("(f) SHSA", PRED_SHSA, MF_SHSA, CCI_SHSA, GAB_SHSA, TR_SHSA, BK_SHSA, [0, 1.2], [0, 0.5, 1.0], "{:.1f}"),
    ("(g) EURO", PRED_EURO, MF_EURO, CCI_EURO, GAB_EURO, TR_EURO, BK_EURO, [0, 0.08], [0, 0.05], "{:.2f}"),
    ("(h) MIDE", PRED_MIDE, MF_MIDE, CCI_MIDE, GAB_MIDE, TR_MIDE, BK_MIDE, [0, 0.04], [0, 0.02, 0.04], "{:.2f}"),
    ("(i) NHAF", PRED_NHAF, MF_NHAF, CCI_NHAF, GAB_NHAF, TR_NHAF, BK_NHAF, [0, 3], [0, 1, 2, 3], "{:.0f}"),
    ("(j) SHAF", PRED_SHAF, MF_SHAF, CCI_SHAF, GAB_SHAF, TR_SHAF, BK_SHAF, [0, 2.5], [0, 1, 2], "{:.0f}"),
    ("(k) BOAS", PRED_BOAS, MF_BOAS, CCI_BOAS, GAB_BOAS, TR_BOAS, BK_BOAS, [0, 1.2], [0, 0.5, 1.0], "{:.1f}"),
    ("(l) CEAS", PRED_CEAS, MF_CEAS, CCI_CEAS, GAB_CEAS, TR_CEAS, BK_CEAS, [0, 0.5], [0, 0.2, 0.4], "{:.1f}"),
    ("(m) SEAS", PRED_SEAS, MF_SEAS, CCI_SEAS, GAB_SEAS, TR_SEAS, BK_SEAS, [0, 0.6], [0, 0.2, 0.4, 0.6], "{:.1f}"),
    ("(n) EQAS", PRED_EQAS, MF_EQAS, CCI_EQAS, GAB_EQAS, TR_EQAS, BK_EQAS, [0, 0.15], [0, 0.05, 0.10, 0.15], "{:.2f}"),
    ("(o) AUST", PRED_AUST, MF_AUST, CCI_AUST, GAB_AUST, TR_AUST, BK_AUST, [0, 1.5], [0, 0.5, 1.0, 1.5], "{:.1f}"),
]

# ---------------- styling ----------------
W, H = 2707, 2696
FONT = "Liberation Sans, Arial, Helvetica, sans-serif"
COLORS = {"pred": "#FF6347", "cci": "#808080", "gab": "rgba(238,130,238,0.65)", "mf": "#1E90FF"}
LW = 3.0
DASH = "16px,7px"
TICK_SIZE = 52
TITLE_SIZE = 58
LEG_SIZE = 50
YLABEL_SIZE = 60
COL_PX = [(229, 908), (1122, 1795), (1998, 2675)]
ROW_PX = [(90, 421), (586, 916), (1081, 1410), (1575, 1905), (2071, 2400)]

fig = go.Figure()
annotations = []
shapes = []

for i, (title, pred, mf, cci, gab, trends, breaks, yr, yt, fmt) in enumerate(PANELS):
    r, c = divmod(i, 3)
    n = i + 1
    xa = "x" if n == 1 else f"x{n}"
    ya = "y" if n == 1 else f"y{n}"
    for key, yrs, vals in (("pred", YEARS_PRED, pred), ("cci", YEARS_CCI, cci),
                           ("gab", YEARS_GAB, gab), ("mf", YEARS_MF, mf)):
        fig.add_trace(go.Scatter(x=yrs, y=vals, mode="lines", xaxis=xa, yaxis=ya,
                                 line=dict(color=COLORS[key], width=LW),
                                 connectgaps=False, showlegend=False, hoverinfo="skip"))
    for key, tx, tv in trends:
        fig.add_trace(go.Scatter(x=tx, y=tv, mode="lines", xaxis=xa, yaxis=ya,
                                 line=dict(color=COLORS[key], width=LW, dash=DASH),
                                 showlegend=False, hoverinfo="skip"))
    for key, bx, bv in breaks:
        fig.add_trace(go.Scatter(x=[bx], y=[bv], mode="markers", xaxis=xa, yaxis=ya,
                                 marker=dict(symbol="x-thin", size=21,
                                             line=dict(color=COLORS[key], width=3.5)),
                                 showlegend=False, hoverinfo="skip"))

    x0, x1 = COL_PX[c]
    top, bot = ROW_PX[r]
    xdom = [x0 / W, x1 / W]
    ydom = [1 - bot / H, 1 - top / H]
    axis_common = dict(showline=True, linecolor="black", linewidth=2.5, ticks="outside",
                       ticklen=11, tickwidth=2.5, tickcolor="black", showgrid=False,
                       zeroline=False, tickfont=dict(size=TICK_SIZE, color="black", family=FONT))
    fig.layout[f"xaxis{'' if n == 1 else n}"] = dict(
        domain=xdom, range=X_RANGE, anchor=ya, tickvals=X_TICKS,
        ticktext=[str(t) for t in X_TICKS], showticklabels=(r == 4),
        ticklabelstandoff=-12, **axis_common)
    fig.layout[f"yaxis{'' if n == 1 else n}"] = dict(
        domain=ydom, range=yr, anchor=xa, tickvals=yt,
        ticktext=[fmt.format(t) for t in yt], ticklabelstandoff=4, **axis_common)
    annotations.append(dict(text=title, x=xdom[0], y=ydom[1], xref="paper", yref="paper",
                            xanchor="left", yanchor="bottom", yshift=20, showarrow=False,
                            font=dict(size=TITLE_SIZE, color="black", family=FONT)))

# y-axis label
annotations.append(dict(text="Annual Total Burned Area (million km<sup>2</sup> yr<sup>\u22121</sup>)",
                        x=52 / W, y=1 - 1150 / H, xref="paper", yref="paper", textangle=-90,
                        xanchor="center", yanchor="middle", showarrow=False,
                        font=dict(size=YLABEL_SIZE, color="black", family=FONT)))

# legend (drawn manually, 3 columns x 2 rows)
LEG_COLS = [282, 1096, 2188]
LEG_ROWS = [2546, 2643]
LEG_ITEMS = [("Prediction", COLORS["pred"], "solid", 0, 0),
             ("FireCCILT11", COLORS["cci"], "solid", 0, 1),
             ("GABAM", COLORS["gab"], "solid", 1, 0),
             ("Mouillot and Field (2005)", COLORS["mf"], "solid", 1, 1),
             ("Trends", "black", "dash", 2, 0),
             ("Breakpoints", "black", "marker", 2, 1)]
for label, col, kind, ci, ri in LEG_ITEMS:
    lx0 = LEG_COLS[ci]
    ly = LEG_ROWS[ri]
    yp = 1 - ly / H
    if kind == "marker":
        cx = lx0 + 52
        for dx in (-8, 8):
            shapes.append(dict(type="line", xref="paper", yref="paper",
                               x0=(cx - dx) / W, x1=(cx + dx) / W,
                               y0=1 - (ly - 8) / H, y1=1 - (ly + 8) / H,
                               line=dict(color=col, width=2.5)))
    else:
        shapes.append(dict(type="line", xref="paper", yref="paper",
                           x0=lx0 / W, x1=(lx0 + 105) / W, y0=yp, y1=yp,
                           line=dict(color=col, width=LW,
                                     dash=("solid" if kind == "solid" else "14px,6px"))))
    annotations.append(dict(text=label, x=(lx0 + 141) / W, y=yp, xref="paper", yref="paper",
                            xanchor="left", yanchor="middle", showarrow=False,
                            font=dict(size=LEG_SIZE, color="black", family=FONT)))

fig.update_layout(width=W, height=H, margin=dict(l=0, r=0, t=0, b=0),
                  template="none", plot_bgcolor="white", paper_bgcolor="white",
                  font=dict(family=FONT, color="black"),
                  annotations=annotations, shapes=shapes, showlegend=False)

fig.write_html("out.html")
